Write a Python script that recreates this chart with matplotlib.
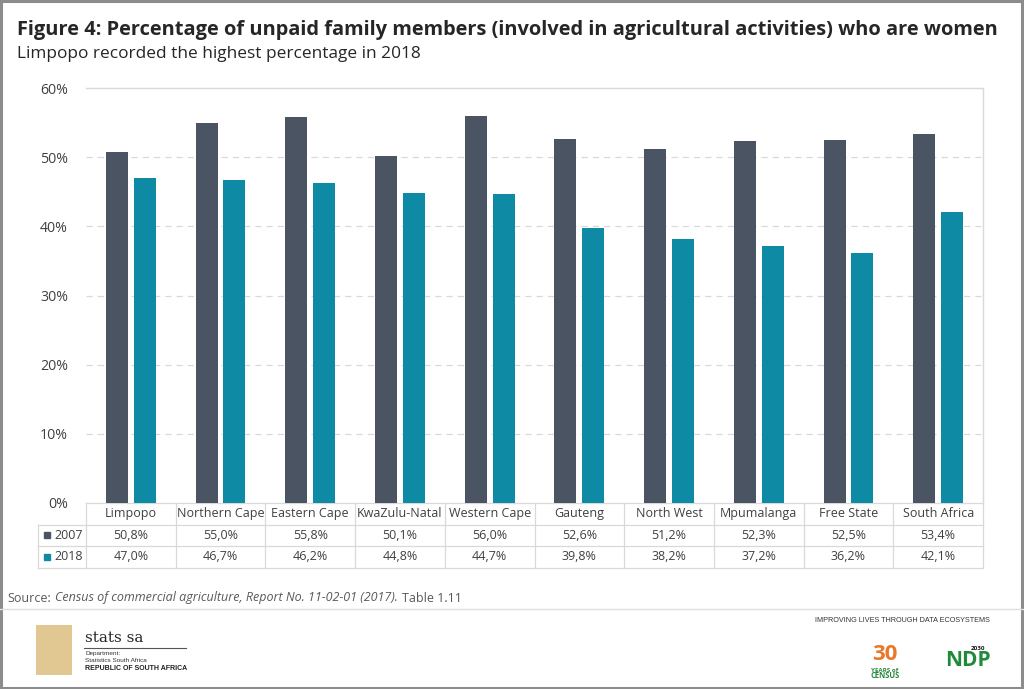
import matplotlib
matplotlib.use("Agg")
import matplotlib.pyplot as plt
from matplotlib.patches import Rectangle
from matplotlib.lines import Line2D
import numpy as np

categories = ["Limpopo", "Northern Cape", "Eastern Cape", "KwaZulu-Natal", "Western Cape",
              "Gauteng", "North West", "Mpumalanga", "Free State", "South Africa"]
series_names = ["2007", "2018"]
values_2007 = [50.8, 55.0, 55.8, 50.1, 56.0, 52.6, 51.2, 52.3, 52.5, 53.4]
values_2018 = [47.0, 46.7, 46.2, 44.8, 44.7, 39.8, 38.2, 37.2, 36.2, 42.1]
yticks = [0, 10, 20, 30, 40, 50, 60]

c2007 = "#4a5463"
c2018 = "#0e8aa5"
grid_c = "#d9d9d9"
text_c = "#404040"
FONT = "Open Sans"

W, H = 1024, 689
fig = plt.figure(figsize=(W / 100, H / 100), dpi=100)
fig.patch.set_facecolor("white")
renderer = fig.canvas.get_renderer()

def fx(px):
    return px / W

def fy(py):
    return 1 - py / H

def fit(t, target_px):
    """scale a text's font size so its rendered width matches target_px"""
    bb = t.get_window_extent(renderer=renderer)
    t.set_fontsize(t.get_fontsize() * target_px / bb.width)
    return t

ax_l, ax_r, ax_t, ax_b = 86, 983, 88, 503
ax = fig.add_axes([fx(ax_l), fy(ax_b), fx(ax_r - ax_l), (ax_b - ax_t) / H])

x = np.arange(len(categories))
bw = 0.245
off = 0.155
ax.bar(x - off, values_2007, bw, color=c2007, zorder=3)
ax.bar(x + off, values_2018, bw, color=c2018, zorder=3)

ax.set_xlim(-0.5, len(categories) - 0.5)
ax.set_ylim(0, 60)
ax.set_yticks(yticks)
ax.set_yticklabels([f"{t}%" for t in yticks], fontsize=10.2, color=text_c, family=FONT)
ax.tick_params(axis="y", length=0, pad=13)
ax.set_xticks([])
for t in yticks[1:-1]:
    ax.axhline(t, color=grid_c, lw=0.9, ls=(0, (5, 4)), zorder=1)
for s in ["left", "bottom"]:
    ax.spines[s].set_visible(False)
for s in ["top", "right"]:
    ax.spines[s].set_color(grid_c)
    ax.spines[s].set_linewidth(1.0)

# data table below the axes
unit_px = (ax_r - ax_l) / len(categories)
row_h_px = 21.5
rh = row_h_px / (ax_b - ax_t)
leg_left_px = 38
leg_left = -0.5 - (ax_l - leg_left_px) / unit_px
trans = ax.get_xaxis_transform()
lkw = dict(color=grid_c, lw=0.9, transform=trans, clip_on=False)
ax.plot([-0.5, len(categories) - 0.5], [0, 0], **lkw)
for k in range(1, 4):
    ax.plot([leg_left, len(categories) - 0.5], [-k * rh, -k * rh], **lkw)
ax.plot([leg_left, leg_left], [-rh, -3 * rh], **lkw)
for i in range(len(categories) + 1):
    ax.plot([i - 0.5, i - 0.5], [0, -3 * rh], **lkw)

TS = 9.0
tkw = dict(transform=trans, ha="center", va="center", fontsize=TS, color=text_c, family=FONT, clip_on=False)
for i, c in enumerate(categories):
    ax.text(i, -0.5 * rh, c, **tkw)
    ax.text(i, -1.5 * rh, f"{values_2007[i]:.1f}%".replace(".", ","), **tkw)
    ax.text(i, -2.5 * rh, f"{values_2018[i]:.1f}%".replace(".", ","), **tkw)

for k, (name, col) in enumerate(zip(series_names, [c2007, c2018])):
    yk = -(1.5 + k) * rh
    ax.text(leg_left + 16 / unit_px, yk, name, transform=trans, ha="left", va="center",
            fontsize=TS, color=text_c, family=FONT, clip_on=False)
    ax.plot([leg_left + 9 / unit_px], [yk], marker="s", ms=5.0, color=col, transform=trans, clip_on=False)

# titles
t1 = fig.text(fx(17), fy(30), "Figure 4: Percentage of unpaid family members (involved in agricultural activities) who are women",
              fontsize=14, fontweight="bold", color="#262626", family=FONT, va="center", ha="left")
fit(t1, 988)
t2 = fig.text(fx(17), fy(54), "Limpopo recorded the highest percentage in 2018",
              fontsize=12.4, color="#262626", family=FONT, va="center", ha="left")
fit(t2, 403)

# source, laid out piece by piece
parts = [("Source:", "normal"),
         ("Census of commercial agriculture, Report No. 11-02-01 (2017).", "italic"),
         ("Table 1.11", "normal")]
SS = 9.0
xpos = 7
for txt, sty in parts:
    tt = fig.text(fx(xpos), fy(598), txt, fontsize=SS, color="#595959", family=FONT, style=sty,
                  va="center", ha="left")
    bb = tt.get_window_extent(renderer=renderer)
    xpos += bb.width + 4

# separator line and frame
fig.add_artist(Line2D([0, 1], [fy(609), fy(609)], color="#e0e0e0", lw=1.0, transform=fig.transFigure))
fig.add_artist(Rectangle((0.001, 0.002), 0.997, 0.996, fill=False, edgecolor="#8c8c8c", lw=2.2,
                         transform=fig.transFigure))

# footer logos (text representations)
fig.text(fx(85), fy(638), "stats sa", fontsize=11, color="#262626", family="DejaVu Serif", va="center", ha="left")
fig.add_artist(Line2D([fx(84), fx(186)], [fy(648), fy(648)], color="#555555", lw=0.8, transform=fig.transFigure))
fig.text(fx(85), fy(653), "Department:", fontsize=4.6, color="#333333", family="Liberation Sans", va="center")
fig.text(fx(85), fy(660), "Statistics South Africa", fontsize=4.6, color="#333333", family="Liberation Sans", va="center")
fig.text(fx(85), fy(668), "REPUBLIC OF SOUTH AFRICA", fontsize=5.0, fontweight="bold", color="#222222",
         family="Liberation Sans", va="center")
fig.add_artist(Rectangle((fx(36), fy(675)), fx(36), (675 - 625) / H, facecolor="#c99b3a", edgecolor="none",
                         alpha=0.55, transform=fig.transFigure))

fig.text(fx(990), fy(621), "IMPROVING LIVES THROUGH DATA ECOSYSTEMS", fontsize=5.2, color="#333333",
         family="Liberation Sans", va="center", ha="right")
fig.text(fx(885), fy(654), "30", fontsize=16, fontweight="bold", color="#e8792b", family=FONT, va="center", ha="center")
fig.text(fx(885), fy(670), "YEARS of", fontsize=4.5, fontweight="bold", color="#2a8a3e", family=FONT, va="center", ha="center")
fig.text(fx(885), fy(676), "CENSUS", fontsize=5.5, fontweight="bold", color="#2a8a3e", family=FONT, va="center", ha="center")
fig.text(fx(968), fy(661), "NDP", fontsize=15, fontweight="bold", color="#1f8a3a", family=FONT, va="center", ha="center")
fig.text(fx(978), fy(648), "2030", fontsize=4.5, fontweight="bold", color="#1a1a1a", family=FONT, va="center", ha="center")

fig.savefig("out.png", dpi=100, facecolor="white")
